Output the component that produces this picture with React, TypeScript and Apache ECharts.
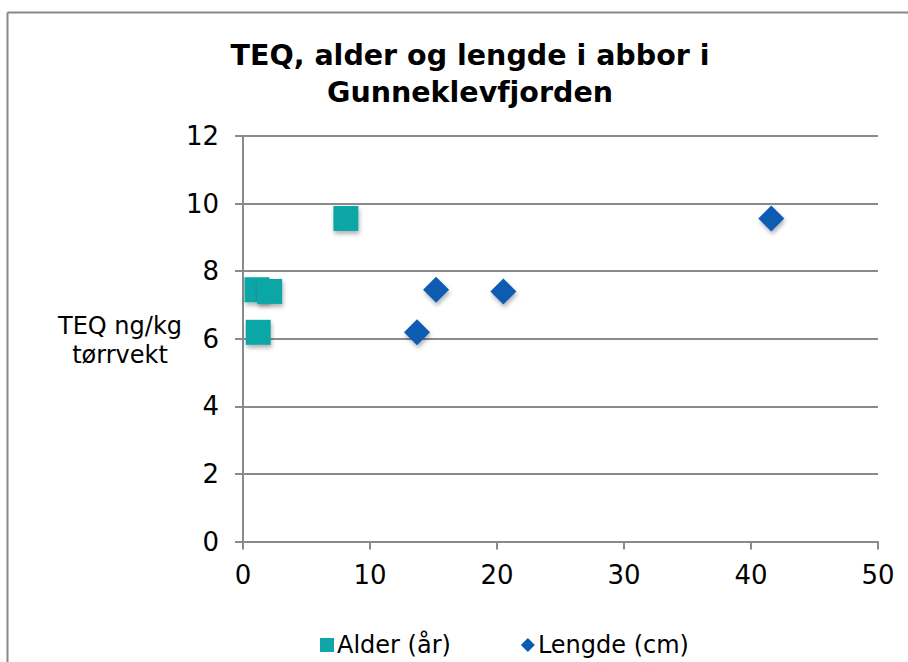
import React, { useEffect, useRef } from "react";
import * as echarts from "echarts";

const titleText = "TEQ, alder og lengde i abbor i\nGunneklevfjorden";
const yAxisTitle = "TEQ ng/kg\ntørrvekt";
const seriesNames = ["Alder (år)", "Lengde (cm)"];
const teqValues = [7.45, 7.4, 6.19, 9.56];
const alderValues = [1.1, 2.1, 1.2, 8.1];
const lengdeValues = [15.2, 20.5, 13.7, 41.6];

const FONT = "DejaVu Sans, Verdana, sans-serif";
const TEAL = "#10a6a7";
const BLUE = "#085cb2";
const AXIS_GRAY = "#8a8a8a";

export default function App() {
  const ref = useRef<HTMLDivElement>(null);
  useEffect(() => {
    if (!ref.current) return;
    const chart = echarts.init(ref.current, null, { renderer: "svg" });
    const alderData = alderValues.map((x, i) => [x, teqValues[i]]);
    const lengdeData = lengdeValues.map((x, i) => [x, teqValues[i]]);
    const shadow = {
      shadowBlur: 4,
      shadowOffsetX: 1,
      shadowOffsetY: 3,
      shadowColor: "rgba(0,0,0,0.3)",
    };
    chart.setOption({
      animation: false,
      backgroundColor: "#ffffff",
      textStyle: { fontFamily: FONT },
      title: {
        text: titleText,
        left: 465,
        top: 32,
        textAlign: "center",
        textStyle: {
          fontFamily: FONT,
          fontSize: 28.5,
          fontWeight: "bold",
          color: "#000",
          lineHeight: 37,
        },
      },
      grid: { left: 243, right: 30, top: 136, bottom: 120.5 },
      xAxis: {
        type: "value",
        min: 0,
        max: 50,
        interval: 10,
        axisLine: { show: true, onZero: false, lineStyle: { color: AXIS_GRAY, width: 2 } },
        axisTick: { show: true, length: 8, lineStyle: { color: AXIS_GRAY, width: 2 } },
        axisLabel: { fontFamily: FONT, fontSize: 26, color: "#000", margin: 20 },
        splitLine: { show: false },
      },
      yAxis: {
        type: "value",
        min: 0,
        max: 12,
        interval: 2,
        axisLine: { show: true, onZero: false, lineStyle: { color: AXIS_GRAY, width: 2 } },
        axisTick: { show: true, length: 8, lineStyle: { color: AXIS_GRAY, width: 2 } },
        axisLabel: { fontFamily: FONT, fontSize: 26, color: "#000", margin: 24 },
        splitLine: { show: true, lineStyle: { color: AXIS_GRAY, width: 2 } },
      },
      legend: {
        left: 315,
        top: 627,
        itemWidth: 14,
        itemHeight: 14,
        itemGap: 70,
        textStyle: { fontFamily: FONT, fontSize: 24, color: "#000", lineHeight: 26, padding: [0, 0, 0, -2] },
        data: [
          { name: seriesNames[0], icon: "rect", itemStyle: { color: TEAL, shadowBlur: 0, shadowOffsetX: 0, shadowOffsetY: 0 } },
          { name: seriesNames[1], icon: "diamond", itemStyle: { color: BLUE, shadowBlur: 0, shadowOffsetX: 0, shadowOffsetY: 0 } },
        ],
      },
      graphic: [
        {
          type: "text",
          x: 120,
          y: 340,
          style: {
            text: yAxisTitle,
            font: `24px ${FONT}`,
            fill: "#000",
            textAlign: "center",
            textVerticalAlign: "middle",
            lineHeight: 29,
          },
        },
        {
          type: "line",
          shape: { x1: 7.5, y1: 12.5, x2: 908, y2: 12.5 },
          style: { stroke: "#888", lineWidth: 2 },
        },
        {
          type: "line",
          shape: { x1: 7.5, y1: 12.5, x2: 7.5, y2: 662 },
          style: { stroke: "#888", lineWidth: 2 },
        },
      ],
      series: [
        {
          name: seriesNames[0],
          type: "scatter",
          symbol: "rect",
          symbolSize: 25,
          data: alderData,
          itemStyle: { color: TEAL, opacity: 1, ...shadow },
        },
        {
          name: seriesNames[1],
          type: "scatter",
          symbol: "diamond",
          symbolSize: 26,
          data: lengdeData,
          itemStyle: { color: BLUE, opacity: 1, ...shadow },
        },
      ],
    });
    return () => chart.dispose();
  }, []);
  return (
    <div
      ref={ref}
      style={{ position: "absolute", left: 0, top: 0, width: 908, height: 662 }}
    />
  );
}
